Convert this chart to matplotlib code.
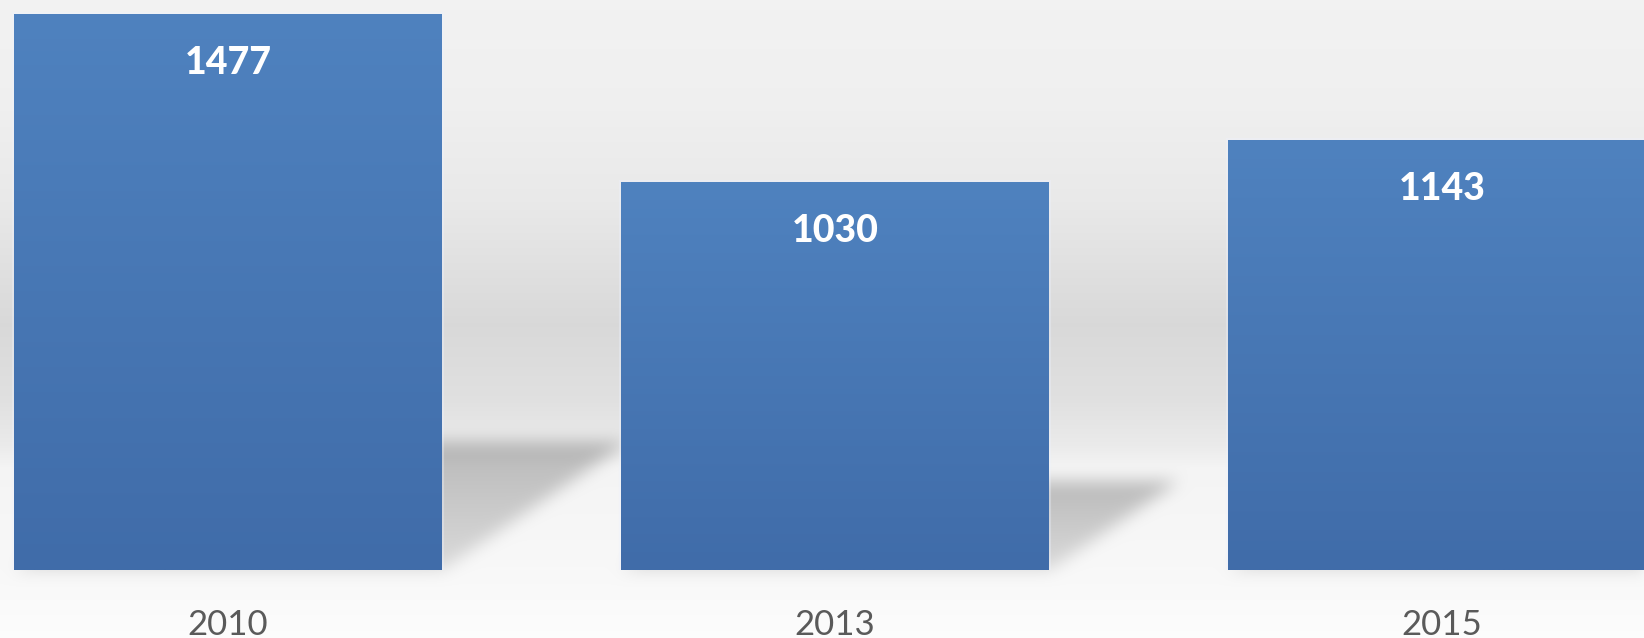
import numpy as np
import matplotlib
matplotlib.use('Agg')
import matplotlib.pyplot as plt
from matplotlib.path import Path
from matplotlib.colors import to_rgb

years = ['2010', '2013', '2015']
counts = [1477, 1030, 1143]

W, H, DPI = 1644, 638, 100
bar_width = 0.705


def box_blur(a, r, axis):
    k = np.ones(2 * r + 1) / (2 * r + 1)
    return np.apply_along_axis(lambda m: np.convolve(m, k, mode='same'), axis, a)


fig = plt.figure(figsize=(W / DPI, H / DPI), dpi=DPI)

# backdrop: full-figure axes holding the grey gradient and the floor shadows
bg_ax = fig.add_axes([0, 0, 1, 1], zorder=0)
bg_ax.set_axis_off()

ax = fig.add_axes([0, 68 / H, 1, 570 / H], zorder=1)
ax.patch.set_alpha(0)
for s in ax.spines.values():
    s.set_visible(False)
ax.set_xlim(-0.3756, 2.3328)
ax.set_ylim(0, 1514)
ax.set_yticks([])
ax.set_xticks(range(len(years)), years)
ax.tick_params(axis='x', length=0, pad=28, labelsize=25, labelcolor='#5a5a5a')
for lbl in ax.get_xticklabels():
    lbl.set_family('Lato')

# vertical backdrop gradient (rows from the top of the figure)
stop_y = [0, 100, 200, 325, 400, 445, 468, 570, 638]
stop_v = [0.95, 0.94, 0.915, 0.85, 0.88, 0.92, 0.958, 0.973, 0.99]
rows = np.interp(np.arange(H) + 0.5, stop_y, stop_v)[::-1]

# soft cast shadow of each bar on the floor behind it
yy, xx = np.mgrid[0:H, 0:W] + 0.5
pts = np.column_stack([xx.ravel(), yy.ravel()])
shadow = np.zeros((H, W))
for i, v in enumerate(counts):
    (px0, py0), (px1, pyt) = ax.transData.transform(
        [(i - bar_width / 2, 0), (i + bar_width / 2, v)])
    h = 0.23 * (pyt - py0)
    d = 1.45 * h
    poly = Path([(px0, py0), (px1, py0), (px1 + d, py0 + h), (px0 + d, py0 + h)])
    inside = poly.contains_points(pts).reshape(H, W).astype(float)
    # darker towards the far edge of the shadow
    fade = np.clip((yy - py0) / h, 0, 1) * 0.5 + 0.5
    shadow = np.maximum(shadow, inside * fade)
for r in (9, 7, 5):
    shadow = box_blur(box_blur(shadow, r, 0), r, 1)

gray = rows[:, None] * (1 - 0.24 * shadow)
bg_ax.imshow(np.dstack([gray] * 3), origin='lower', extent=(0, W, 0, H),
             aspect='auto', interpolation='bilinear')
bg_ax.set_xlim(0, W)
bg_ax.set_ylim(0, H)

# bars: faint halo edge, then a top-to-bottom blue gradient clipped to each bar
bars = ax.bar(range(len(counts)), counts, width=bar_width, color='none',
              edgecolor=(0.93, 0.95, 1.0, 0.35), linewidth=3, zorder=2)
top_c = np.array(to_rgb('#4f82bf'))
bot_c = np.array(to_rgb('#406ca9'))
t = np.linspace(0, 1, 256)[:, None, None]
grad = top_c * (1 - t) + bot_c * t
for i, (bar, v) in enumerate(zip(bars, counts)):
    x0 = bar.get_x()
    im = ax.imshow(grad, extent=(x0, x0 + bar.get_width(), 0, v), origin='upper',
                   aspect='auto', interpolation='bilinear', zorder=3)
    im.set_clip_path(bar)
    ax.annotate(str(v), (i, v), xytext=(0, -23), textcoords='offset points',
                ha='center', va='top', color='white', fontsize=27,
                fontweight='black', family='Lato', zorder=4)

ax.set_xlim(-0.3756, 2.3328)
ax.set_ylim(0, 1514)

fig.savefig('out.png', dpi=DPI)
